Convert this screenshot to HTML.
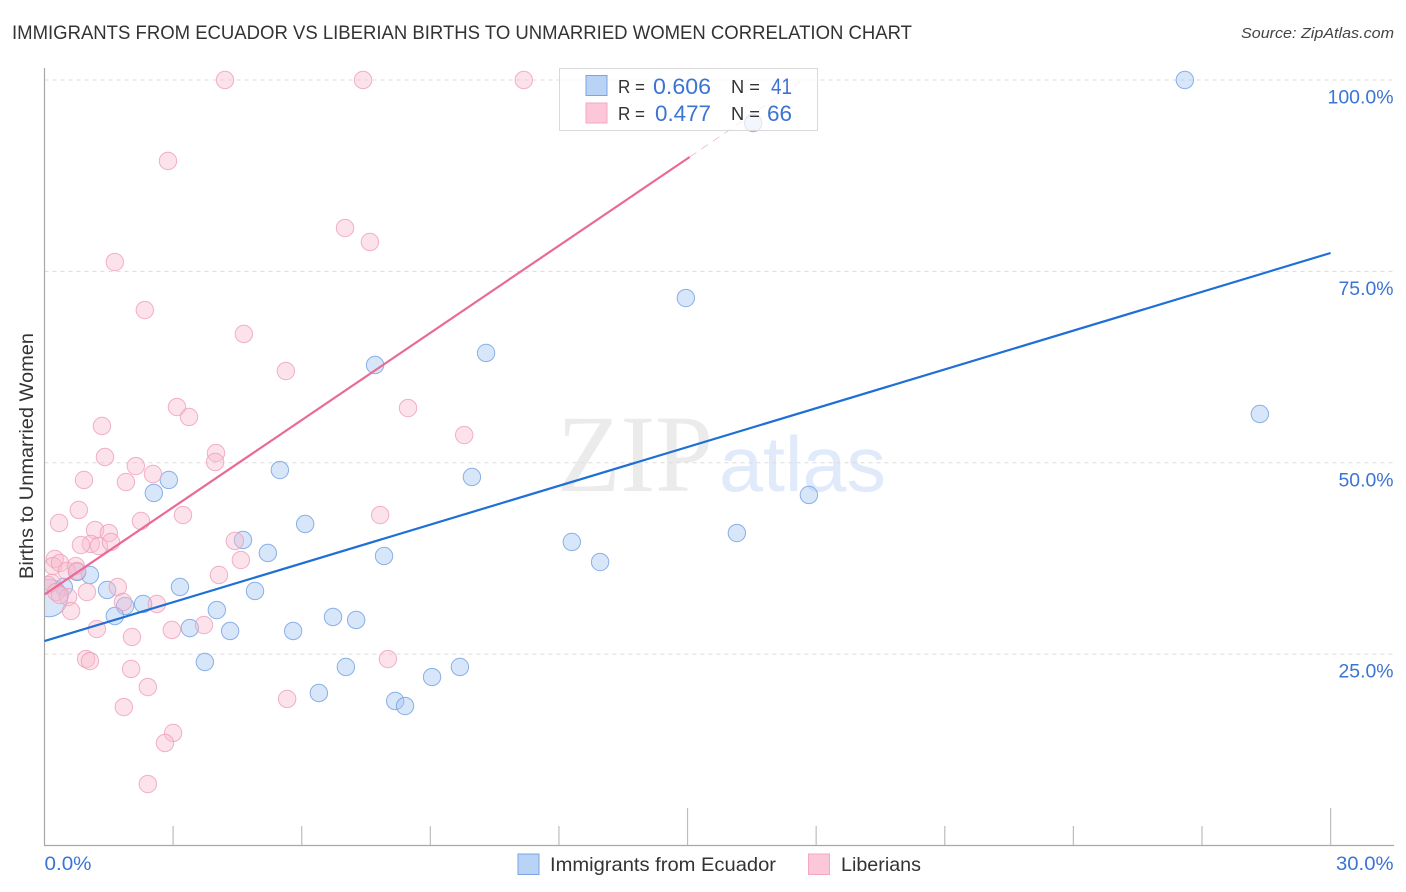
<!DOCTYPE html>
<html lang="en">
<head>
<meta charset="utf-8">
<title>Immigrants from Ecuador vs Liberian Births to Unmarried Women Correlation Chart</title>
<style>
html,body{margin:0;padding:0;background:#fff;width:1406px;height:892px;overflow:hidden}
svg{display:block}
text{font-family:"Liberation Sans",sans-serif}
</style>
</head>
<body>
<svg id="chart" width="1406" height="892" viewBox="0 0 1406 892" xmlns="http://www.w3.org/2000/svg">
<defs><clipPath id="plot-clip"><rect x="45" y="60" width="1349" height="785"/></clipPath></defs>
<text x="12" y="39" font-size="19" fill="#333" textLength="900" lengthAdjust="spacingAndGlyphs">IMMIGRANTS FROM ECUADOR VS LIBERIAN BIRTHS TO UNMARRIED WOMEN CORRELATION CHART</text>
<text x="1241" y="38" font-size="15" font-style="italic" fill="#444" textLength="153" lengthAdjust="spacingAndGlyphs">Source: ZipAtlas.com</text>
<g>
<text x="557" y="491" style="font-family:'Liberation Serif',serif" font-size="110" fill="#ebebeb" textLength="156" lengthAdjust="spacingAndGlyphs">ZIP</text>
<text x="719" y="491" font-size="78" fill="#e0eafa" textLength="167" lengthAdjust="spacingAndGlyphs">atlas</text>
</g>
<g id="grid"></g>
<g id="axes"></g>
<g id="points" clip-path="url(#plot-clip)"></g>
<g id="trends"></g>
<text transform="translate(33,579) rotate(-90)" font-size="19" fill="#333" textLength="246" lengthAdjust="spacingAndGlyphs">Births to Unmarried Women</text>
<g>
<rect x="559.5" y="68.5" width="258" height="62" fill="#fff" fill-opacity="0.68" stroke="#d9d9d9" stroke-width="1"/>
<rect x="586" y="75.5" width="21" height="20" fill="#b9d3f6" stroke="#7aa5e2" stroke-width="1"/>
<rect x="586" y="103" width="21" height="20" fill="#fcc8d9" stroke="#f2a9c0" stroke-width="1"/>
<text x="618" y="93" font-size="18" fill="#333" textLength="27" lengthAdjust="spacingAndGlyphs">R =</text>
<text x="653" y="94" font-size="22" fill="#3b74d4" textLength="58" lengthAdjust="spacingAndGlyphs">0.606</text>
<text x="731" y="93" font-size="18" fill="#333" textLength="29" lengthAdjust="spacingAndGlyphs">N =</text>
<text x="771" y="94" font-size="22" fill="#3b74d4" textLength="21" lengthAdjust="spacingAndGlyphs">41</text>
<text x="618" y="120" font-size="18" fill="#333" textLength="27" lengthAdjust="spacingAndGlyphs">R =</text>
<text x="655" y="121" font-size="22" fill="#3b74d4" textLength="56" lengthAdjust="spacingAndGlyphs">0.477</text>
<text x="731" y="120" font-size="18" fill="#333" textLength="29" lengthAdjust="spacingAndGlyphs">N =</text>
<text x="767" y="121" font-size="22" fill="#3b74d4" textLength="25" lengthAdjust="spacingAndGlyphs">66</text>
</g>
<g>
<rect x="518" y="854" width="21" height="20.5" fill="#b9d3f6" stroke="#7aa5e2" stroke-width="1"/>
<text x="550" y="871" font-size="19.5" fill="#333" textLength="226" lengthAdjust="spacingAndGlyphs">Immigrants from Ecuador</text>
<rect x="808.5" y="854" width="21" height="20.5" fill="#fcc8d9" stroke="#f2a9c0" stroke-width="1"/>
<text x="841" y="871" font-size="19.5" fill="#333" textLength="80" lengthAdjust="spacingAndGlyphs">Liberians</text>
</g>
</svg>
<script>
const blueX = [26.60,16.53,14.96,10.30,7.71,28.35,5.49,2.90,2.55,9.97,17.83,6.08,4.63,5.21,7.92,12.30,16.15,12.96,1.06,0.76,0.45,1.46,3.16,4.91,2.30,1.88,1.64,4.02,6.73,7.27,3.39,4.33,5.80,3.74,7.03,9.69,9.04,6.40,8.18,8.41,0.10];
const blueY = [100,94.38,71.52,64.34,62.77,56.37,49.05,47.75,46.05,48.14,45.79,42.00,39.91,38.21,37.82,39.65,40.82,37.03,35.34,35.73,33.77,33.38,33.77,33.25,31.55,31.29,29.98,30.76,29.85,29.46,28.41,28.02,28.02,23.97,23.32,23.32,22.01,19.92,18.88,18.22,32.33];
const blueWeight = [1,1,1,1,1,1,1,1,1,1,1,1,1,1,1,1,1,1,1,1,1,1,1,1,1,1,1,1,1,1,1,1,1,1,1,1,1,1,1,1,2.15];
const pinkX = [4.21,7.43,11.18,2.88,7.01,7.59,1.64,2.34,4.65,5.63,3.09,3.37,8.48,9.79,1.34,1.41,4.00,3.98,2.13,2.53,0.92,1.90,0.80,3.23,7.83,0.34,2.25,1.18,1.50,1.08,0.85,1.27,1.55,4.44,4.58,0.24,0.20,0.36,0.73,0.52,0.76,4.07,1.71,0.17,0.08,0.99,0.27,0.55,0.36,1.83,2.62,0.62,1.22,2.97,3.72,2.04,0.97,1.06,8.01,2.02,2.41,5.66,1.85,3.00,2.81,2.41];
const pinkY = [100,100,100,89.42,80.66,78.84,76.22,69.95,66.82,61.98,57.28,55.98,57.15,53.62,54.80,50.75,51.27,50.10,49.57,48.53,47.75,47.48,43.83,43.17,43.17,42.13,42.39,41.21,40.82,39.39,39.25,39.12,39.65,39.78,37.29,37.43,36.51,36.90,36.51,35.86,35.86,35.34,33.77,34.29,34.03,33.11,33.11,32.46,32.72,31.81,31.55,30.63,28.28,28.15,28.80,27.24,24.36,24.10,24.36,23.06,20.70,19.14,18.09,14.70,13.39,8.03];
const blueTrendX = [0,30];
const blueTrendY = [26.71,77.40];
const pinkTrendX = [0,15.05];
const pinkTrendY = [32.79,89.94];
const pinkExtendX = [15.05,17.68];
const pinkExtendY = [89.94,100];
const xTicks = [3,6,9,12,15,18,21,24,27,30];
const xMajorTicks = [15,30];
const yTicks = [25,50,75,100];
const yTickLabels = ["25.0%","50.0%","75.0%","100.0%"];
const xEndTicks = [0,30];
const xEndLabels = ["0.0%","30.0%"];

const NS = "http://www.w3.org/2000/svg";
const xScale = v => 44.5 + v * 42.87;
const yScale = v => 845.5 - v * 7.655;
function mk(parent, tag, attrs) {
  const el = document.createElementNS(NS, tag);
  for (const k in attrs) el.setAttribute(k, attrs[k]);
  parent.appendChild(el);
  return el;
}
const gridG = document.getElementById("grid");
const axesG = document.getElementById("axes");
const pointsG = document.getElementById("points");
const trendsG = document.getElementById("trends");

yTicks.forEach((t, i) => {
  const g = mk(gridG, "line", {x1: 44.5, x2: 1394, y1: yScale(t), y2: yScale(t), stroke: "#dcdcdc", "stroke-width": 1, "stroke-dasharray": "4 4"});
  
  
  const len = yTickLabels[i].length === 6 ? 66 : 55;
  const lab = mk(axesG, "text", {x: 1393.5 - len, y: yScale(t) + 23.5, "font-size": 19.5, fill: "#3b74d4", textLength: len, lengthAdjust: "spacingAndGlyphs"});
  lab.textContent = yTickLabels[i];
  
  
});

const yAxis = mk(axesG, "line", {x1: 44.5, x2: 44.5, y1: 68, y2: 846, stroke: "#a8a8a8", "stroke-width": 1.2});


const xAxis = mk(axesG, "line", {x1: 44, x2: 1394, y1: 845.5, y2: 845.5, stroke: "#a8a8a8", "stroke-width": 1.2});



xTicks.forEach(t => {
  const top = xMajorTicks.includes(t) ? 808 : 826;
  const tick = mk(axesG, "line", {x1: xScale(t), x2: xScale(t), y1: top, y2: 845, stroke: "#bdbdbd", "stroke-width": 1.2});
  
  
});

xEndTicks.forEach((t, i) => {
  const lab = mk(axesG, "text", i === 0
    ? {x: xScale(t), y: 870, "font-size": 19.5, fill: "#3b74d4", textLength: 47, lengthAdjust: "spacingAndGlyphs"}
    : {x: 1336, y: 870, "font-size": 19.5, fill: "#3b74d4", textLength: 57.5, lengthAdjust: "spacingAndGlyphs"});
  lab.textContent = xEndLabels[i];
  
  
});

blueX.forEach((v, i) => {
  const c = mk(pointsG, "circle", {cx: xScale(v), cy: yScale(blueY[i]), r: 8.7 * blueWeight[i], fill: "#a9c8f2", "fill-opacity": 0.45, stroke: "#6f9fe2", "stroke-opacity": 0.8, "stroke-width": 1});
  
  
});
pinkX.forEach((v, i) => {
  const c = mk(pointsG, "circle", {cx: xScale(v), cy: yScale(pinkY[i]), r: 8.7, fill: "#f9bccf", "fill-opacity": 0.42, stroke: "#ef9db8", "stroke-opacity": 0.8, "stroke-width": 1});
  
  
});

const blueLine = mk(trendsG, "line", {x1: xScale(blueTrendX[0]), y1: yScale(blueTrendY[0]), x2: xScale(blueTrendX[1]), y2: yScale(blueTrendY[1]), stroke: "#1f6fd6", "stroke-width": 2.2});


const pinkLine = mk(trendsG, "line", {x1: xScale(pinkTrendX[0]), y1: yScale(pinkTrendY[0]), x2: xScale(pinkTrendX[1]), y2: yScale(pinkTrendY[1]), stroke: "#ea6a96", "stroke-width": 2.2});


const pinkExt = mk(trendsG, "line", {x1: xScale(pinkExtendX[0]), y1: yScale(pinkExtendY[0]), x2: xScale(pinkExtendX[1]), y2: yScale(pinkExtendY[1]), stroke: "#efa0ba", "stroke-width": 0.6, "stroke-dasharray": "8 6"});


</script>
</body>
</html>
